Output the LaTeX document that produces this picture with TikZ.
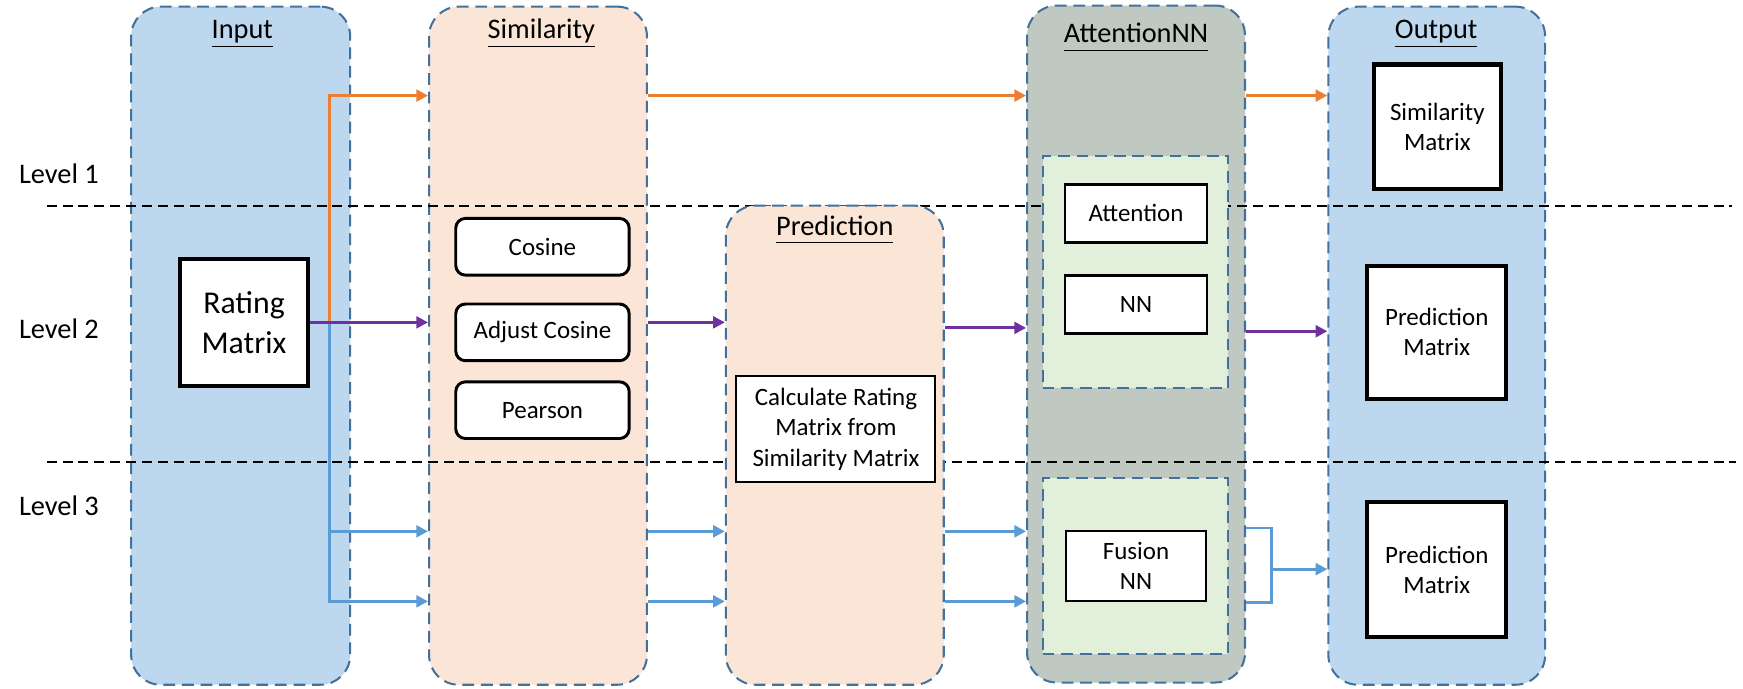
\documentclass[tikz,border=0pt]{standalone}
\usepackage{fontspec}
\setmainfont{Carlito}
\usetikzlibrary{arrows.meta,fit}
\definecolor{inblue}{RGB}{189,215,238}
\definecolor{simpeach}{RGB}{251,229,214}
\definecolor{attgrey}{RGB}{191,201,193}
\definecolor{grpgreen}{RGB}{226,239,218}
\definecolor{rimblue}{RGB}{65,113,156}
\definecolor{lvorange}{RGB}{237,125,49}
\definecolor{lvpurple}{RGB}{112,48,160}
\definecolor{lvblue}{RGB}{91,155,213}
\newlength\pxu
\setlength\pxu{0.01722cm}
\newcommand\coltitle[1]{\underline{#1\vphantom{p}}}

\begin{document}
\begin{tikzpicture}[x=0.01722cm, y=-0.01722cm,
    column/.style={draw=rimblue, line width=0.9pt, dash pattern=on 5.2pt off 3pt, rounded corners=0.46cm, inner sep=0pt},
    group/.style={draw=rimblue, fill=grpgreen, line width=0.9pt, dash pattern=on 5.2pt off 3pt, inner sep=0pt},
    title/.style={font=\fontsize{12.5}{15}\selectfont},
    matbox/.style={draw, line width=1.8pt, fill=white, align=center, inner sep=0pt, font=\fontsize{11}{13.2}\selectfont},
    simbox/.style={draw, line width=1.3pt, fill=white, rounded corners=0.15cm, minimum width=156\pxu, minimum height=51\pxu, inner sep=0pt, font=\fontsize{11}{13.2}\selectfont},
    attbox/.style={draw, line width=1.1pt, fill=white, minimum width=128\pxu, inner sep=0pt, align=center, font=\fontsize{11}{13.5}\selectfont},
    level/.style={draw, line width=0.9pt, dash pattern=on 4.4pt off 2.6pt},
    link/.style={line width=1.3pt, -{Triangle[length=5.2pt,width=5.2pt]}}
]

    \useasboundingbox (0,0) rectangle (1568,619);

    % die Spalten
    \node[column, fill=inblue, fit={(118,6) (315,616)}] (input) {};
    \node[column, fill=simpeach, fit={(386,6) (582,616)}] (sim) {};
    \node[column, fill=attgrey, fit={(924,5) (1120,614)}] (att) {};
    \node[column, fill=inblue, fit={(1195,6) (1390,616)}] (out) {};

    % Ebenen
    \draw[level] (42,185) -- (1558,185);
    \draw[level] (42,416) -- (1562,416);
    \node[title] (lev1) at (53,156) {Level 1};
    \node[title] (lev2) at (53,296) {Level 2};
    \node[title] (lev3) at (53,455) {Level 3};

    \node[column, fill=simpeach, fit={(653,185) (849,616)}] (pred) {};  %liegt ueber der Linie

    \node[title, anchor=base] (inputtitle) at (218,34.5) {\coltitle{Input}};
    \node[title, anchor=base] (simtitle) at (487,34.5) {\coltitle{Similarity}};
    \node[title, anchor=base] (predtitle) at (751,211.5) {\coltitle{Prediction}};
    \node[title, anchor=base] (atttitle) at (1022,38) {\coltitle{AttentionNN}};
    \node[title, anchor=base] (outtitle) at (1292,34.5) {\coltitle{Output}};

    % innere Gruppen
    \node[group, fit={(938,140) (1105,349)}] (attgrp) {};
    \node[group, fit={(938,430) (1105,588)}] (fusgrp) {};

    % Boxen
    \node[matbox, minimum width=115\pxu, minimum height=114\pxu, font=\fontsize{14}{17.5}\selectfont] (rating) at (219.5,290) {Rating\\Matrix};
    \node[simbox] (cosine) at (488,222) {Cosine};
    \node[simbox] (adjcos) at (488,299) {Adjust Cosine};
    \node[simbox] (pearson) at (488,369) {Pearson};
    \node[attbox, line width=0.9pt, minimum width=179\pxu, minimum height=95\pxu] (calc) at (752,386) {Calculate Rating\\Matrix from\\Similarity Matrix};
    \node[attbox, minimum height=52\pxu] (attention) at (1022,192) {Attention};
    \node[attbox, minimum height=52\pxu] (nn) at (1022,274) {NN};
    \node[attbox, minimum width=126\pxu, minimum height=63\pxu] (fusion) at (1022,509) {Fusion\\NN};
    \node[matbox, minimum width=114\pxu, minimum height=112\pxu] (simmat) at (1293,114) {Similarity\\Matrix};
    \node[matbox, minimum width=125\pxu, minimum height=120\pxu] (predmat) at (1292.5,299) {Prediction\\Matrix};
    \node[matbox, minimum width=125\pxu, minimum height=121\pxu] (fusmat) at (1292.5,512.5) {Prediction\\Matrix};

    % Pfeile
    \coordinate (fork) at (296,290);
    \coordinate (row1) at (0,86);
    \coordinate (row2a) at (0,290);
    \coordinate (row2b) at (0,295);
    \coordinate (row2c) at (0,298);
    \coordinate (row3a) at (0,478);
    \coordinate (row3b) at (0,541);
    \coordinate (row3c) at (0,475);
    \coordinate (row3d) at (0,542);
    \coordinate (brk) at (1144,512);

    \draw[link, lvorange] (fork) -- (fork |- row1) -- (sim.west |- row1);
    \draw[link, lvorange] (sim.east |- row1) -- (att.west |- row1);
    \draw[link, lvorange] (att.east |- row1) -- (out.west |- row1);

    \draw[link, lvblue] (fork) -- (fork |- row3b) -- (sim.west |- row3b);
    \draw[link, lvblue] (fork |- row3a) -- (sim.west |- row3a);
    \draw[link, lvblue] (sim.east |- row3a) -- (pred.west |- row3a);
    \draw[link, lvblue] (sim.east |- row3b) -- (pred.west |- row3b);
    \draw[link, lvblue] (pred.east |- row3a) -- (att.west |- row3a);
    \draw[link, lvblue] (pred.east |- row3b) -- (att.west |- row3b);
    \draw[line width=1.3pt, lvblue] (att.east |- row3c) -- (brk |- row3c) -- (brk |- row3d) -- (att.east |- row3d);  %Klammer
    \draw[link, lvblue] (brk) -- (brk -| out.west);

    \draw[link, lvpurple] (rating.east) -- (sim.west |- row2a);
    \draw[link, lvpurple] (sim.east |- row2a) -- (pred.west |- row2a);
    \draw[link, lvpurple] (pred.east |- row2b) -- (att.west |- row2b);
    \draw[link, lvpurple] (att.east |- row2c) -- (out.west |- row2c);

\end{tikzpicture}
\end{document}
